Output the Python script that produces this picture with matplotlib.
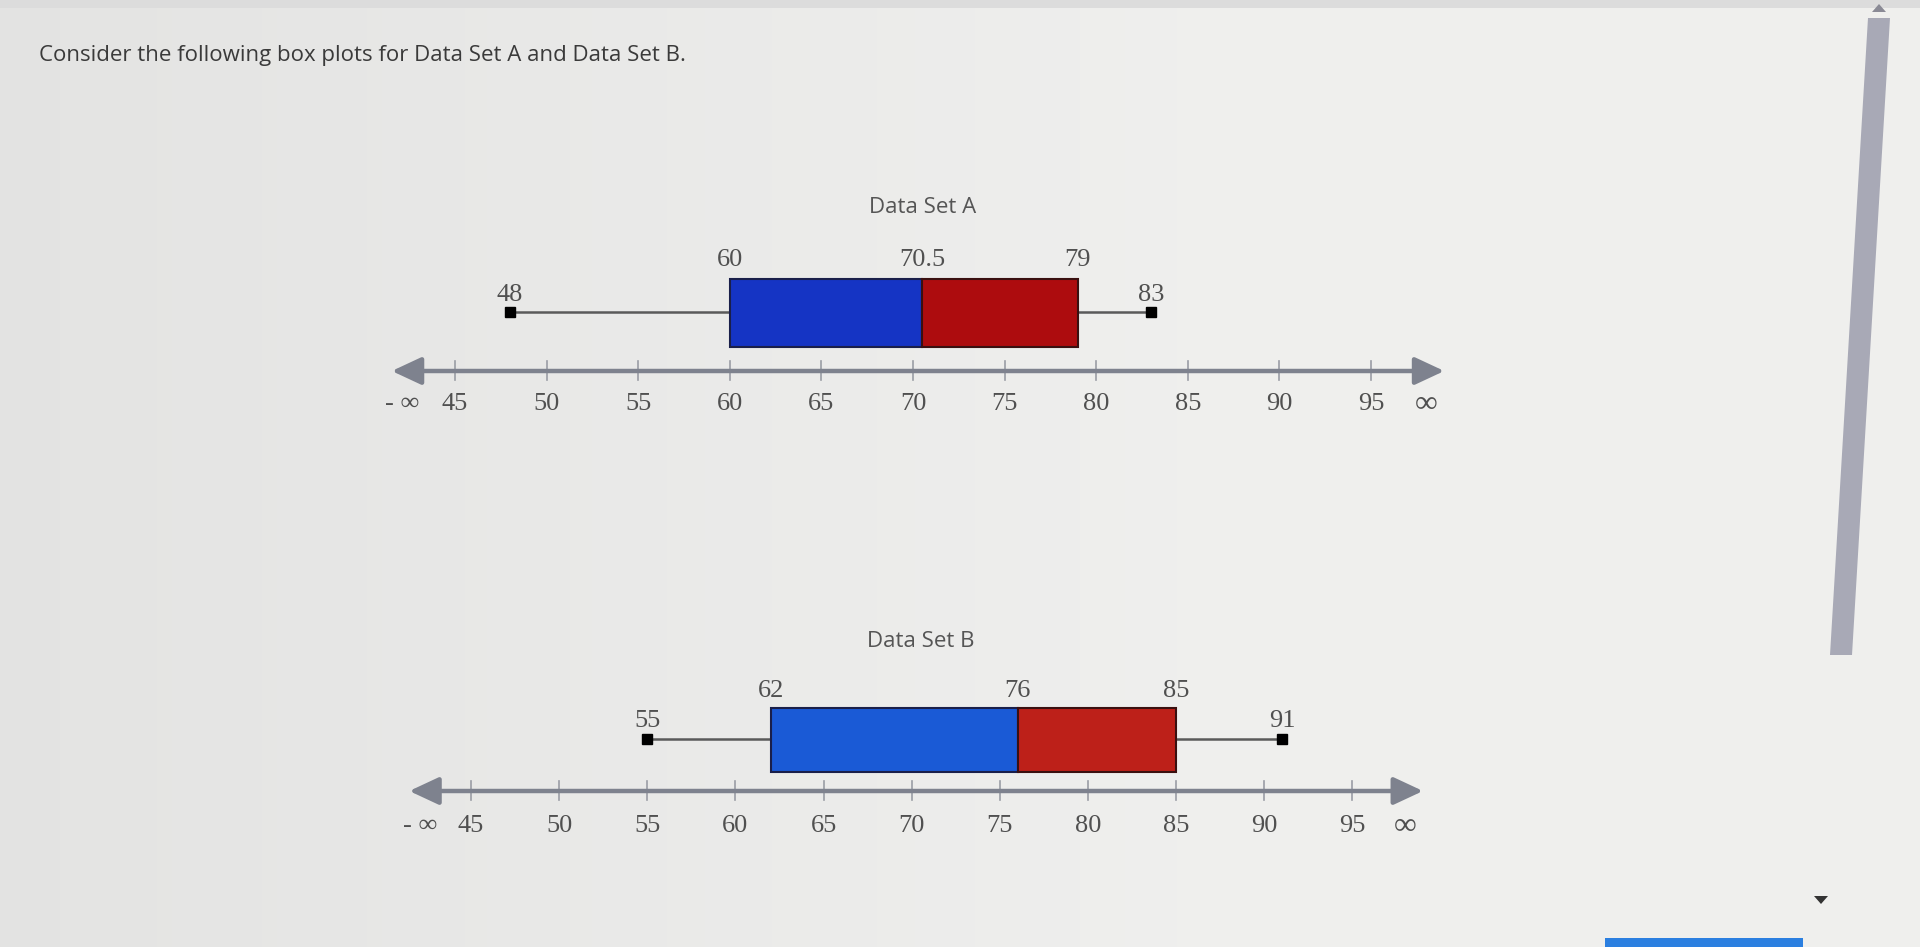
import numpy as np
import matplotlib.pyplot as plt
from matplotlib.patches import Rectangle, Polygon

# five-number summaries: min, Q1, median, Q3, max
stats_a = [48, 60, 70.5, 79, 83]
stats_b = [55, 62, 76, 85, 91]
tick_values = [45, 50, 55, 60, 65, 70, 75, 80, 85, 90, 95]
stat_labels_a = ["48", "60", "70.5", "79", "83"]
stat_labels_b = ["55", "62", "76", "85", "91"]

W, H = 1920, 947
serif = "Liberation Serif"
sans = "Open Sans"
num_size = 19


def make_axes(fig, px_45, px_per_unit):
    # axes spans the whole figure height, y measured in pixel rows
    left = px_45 - 5 * px_per_unit
    width = 60 * px_per_unit
    ax = fig.add_axes([left / W, 0, width / W, 1])
    ax.set_xlim(40, 100)
    ax.set_ylim(H, 0)
    ax.axis("off")
    return ax


def draw_boxplot(ax, stats, labels, title, title_y, box_top, box_bot, whisk_y,
                 axis_y, tick_y, q_label_y, w_label_y, blue, red, tip_l, tip_r):
    lo, q1, med, q3, hi = stats
    ax.text(70.5, title_y, title, family=sans, fontsize=16, color="#555555",
            ha="center", va="center")

    # whiskers and end markers
    ax.plot([lo, q1], [whisk_y, whisk_y], color="#5a5a5a", lw=1.8, zorder=2)
    ax.plot([q3, hi], [whisk_y, whisk_y], color="#5a5a5a", lw=1.8, zorder=2)
    ax.plot([lo, hi], [whisk_y, whisk_y], ls="none", marker="s", ms=7,
            color="black", zorder=3)

    # box halves
    ax.add_patch(Rectangle((q1, box_bot), med - q1, box_top - box_bot,
                           facecolor=blue, edgecolor="#1a1f4a", lw=1.5, zorder=3))
    ax.add_patch(Rectangle((med, box_bot), q3 - med, box_top - box_bot,
                           facecolor=red, edgecolor="#3a1010", lw=1.5, zorder=3))

    # value labels
    for v, t, y in zip(stats, labels, [w_label_y, q_label_y, q_label_y, q_label_y, w_label_y]):
        ax.text(v, y, t, family=serif, fontsize=num_size, color="#505050",
                ha="center", va="center")

    # number line with arrows
    ax.annotate("", xy=(tip_l, axis_y), xytext=(tip_r, axis_y),
                arrowprops=dict(arrowstyle="<|-|>,head_length=0.9,head_width=0.42",
                                color="#7e828e", lw=3.2, mutation_scale=20,
                                shrinkA=0, shrinkB=0))
    for t in tick_values:
        ax.plot([t, t], [axis_y - 10, axis_y + 9], color="#9a9da5", lw=1.2)
        ax.text(t, tick_y, str(t), family=serif, fontsize=num_size, color="#505050",
                ha="center", va="center")
    ax.text(42.1, tick_y, "- \u221e", family=serif, fontsize=num_size,
            color="#505050", ha="center", va="center")
    ax.text(98.0, tick_y, "\u221e", family=serif, fontsize=num_size + 4,
            color="#505050", ha="center", va="center")


fig = plt.figure(figsize=(19.2, 9.47), dpi=100)
fig.patch.set_facecolor("#e9e9e7")

# page decorations
bg = fig.add_axes([0, 0, 1, 1])
bg.set_xlim(0, W)
bg.set_ylim(H, 0)
bg.axis("off")
shade = np.clip(np.linspace(0, 1.6, 256), 0, 1)
grad = np.array([0.892, 0.892, 0.888]) + np.outer(shade, [0.046, 0.046, 0.044])
bg.imshow(grad[np.newaxis, :, :], extent=[0, W, H, 0], aspect="auto", zorder=0)
bg.add_patch(Rectangle((0, 0), W, 8, facecolor="#dcdcdc", edgecolor="none"))
bg.add_patch(Polygon([(1868, 18), (1890, 18), (1852, 655), (1830, 655)],
                     closed=True, facecolor="#a8a9b6", edgecolor="none"))
bg.add_patch(Polygon([(1872, 12), (1886, 12), (1879, 4)], closed=True,
                     facecolor="#8a8a95", edgecolor="none"))
bg.add_patch(Polygon([(1814, 896), (1828, 896), (1821, 904)], closed=True,
                     facecolor="#333333", edgecolor="none"))
bg.add_patch(Rectangle((1605, 938), 198, 9, facecolor="#2b7fe0", edgecolor="none"))
bg.text(39, 55, "Consider the following box plots for Data Set A and Data Set B.",
        family=sans, fontsize=16, color="#3a3a3a", ha="left", va="center")

ax_a = make_axes(fig, 455, 18.32)
draw_boxplot(ax_a, stats_a, stat_labels_a, "Data Set A", 207, 279, 347, 312,
             371, 404, 260, 295, "#1534c4", "#ad0c0e", 41.55, 99.0)

ax_b = make_axes(fig, 471, 17.63)
draw_boxplot(ax_b, stats_b, stat_labels_b, "Data Set B", 641, 708, 772, 739,
             791, 826, 691, 721, "#1a5ad6", "#bd2019", 41.5, 99.0)

fig.savefig("out.png", dpi=100, facecolor=fig.get_facecolor())
